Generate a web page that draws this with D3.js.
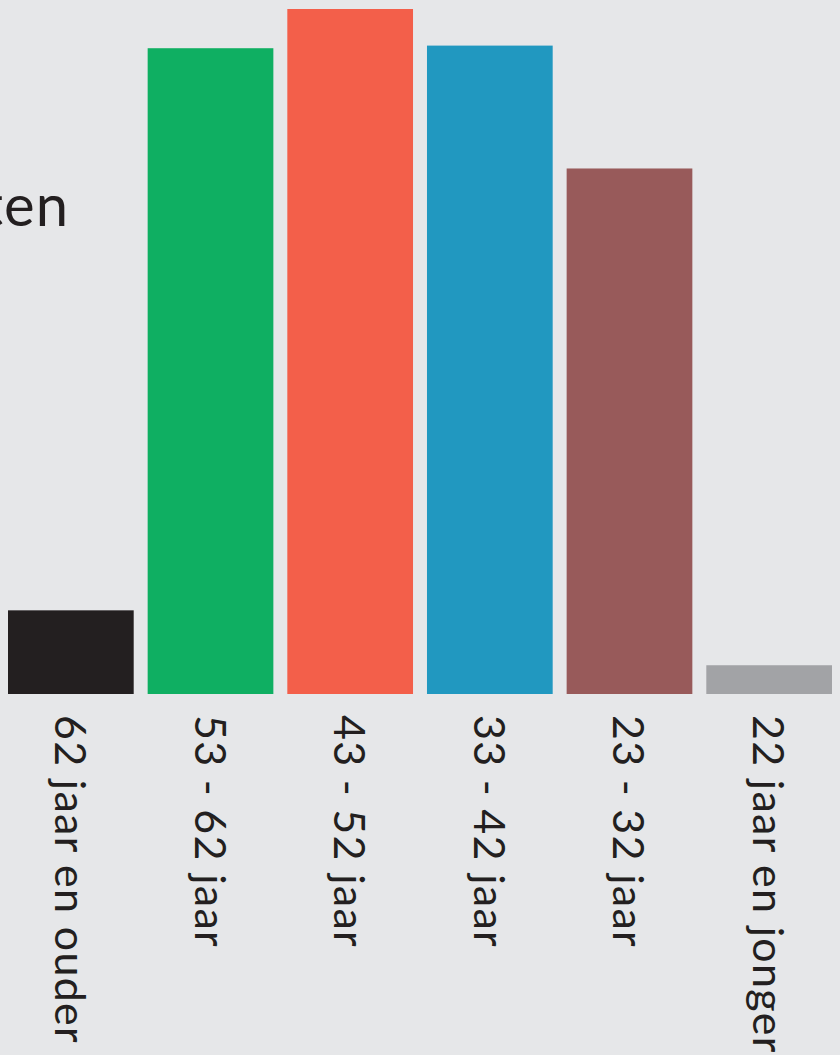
<!DOCTYPE html>
<html>
<head>
<meta charset="utf-8">
<script src="https://cdn.jsdelivr.net/npm/d3@7"></script>
<style>
  html, body { margin: 0; padding: 0; background: #e6e7e9; }
  svg { display: block; }
</style>
</head>
<body>
<div id="chart"></div>
<script>
const categories = ["62 jaar en ouder", "53 - 62 jaar", "43 - 52 jaar", "33 - 42 jaar", "23 - 32 jaar", "22 jaar en jonger"];
const values = [3.2, 24.7, 26.2, 24.8, 20.1, 1.1];
const colors = ["#231f20", "#0faf62", "#f35f4a", "#2198c0", "#985a5a", "#a2a3a6"];
const titleText = "ten";

const W = 840, H = 1055;
const FONT = "Lato, 'Open Sans', sans-serif";

const svg = d3.select("#chart").append("svg")
    .attr("width", W)
    .attr("height", H);

svg.append("rect")
    .attr("width", W)
    .attr("height", H)
    .attr("fill", "#e6e7e9");

const x = d3.scaleBand()
    .domain(categories)
    .range([8, 832])
    .paddingInner(0.1)
    .paddingOuter(0);

const y = d3.scaleLinear()
    .domain([0, d3.max(values)])
    .range([694, 9]);

// title, only its end is inside the picture
svg.append("text")
    .attr("x", 69)
    .attr("y", 226)
    .attr("text-anchor", "end")
    .attr("font-family", FONT)
    .attr("font-size", 58)
    .attr("letter-spacing", 1)
    .attr("fill", "#231f20")
    .text(titleText);

svg.selectAll("rect.bar")
    .data(values)
    .enter()
    .append("rect")
    .attr("class", "bar")
    .attr("x", (d, i) => x(categories[i]))
    .attr("y", d => y(d))
    .attr("width", x.bandwidth())
    .attr("height", d => y(0) - y(d))
    .attr("fill", (d, i) => colors[i]);

svg.selectAll("text.label")
    .data(categories)
    .enter()
    .append("text")
    .attr("class", "label")
    .attr("transform", d => `translate(${x(d) + x.bandwidth() / 2},715) rotate(90)`)
    .attr("y", 16)
    .attr("font-family", FONT)
    .attr("font-size", 43)
    .attr("letter-spacing", 1.3)
    .attr("fill", "#231f20")
    .text(d => d);
</script>
</body>
</html>
